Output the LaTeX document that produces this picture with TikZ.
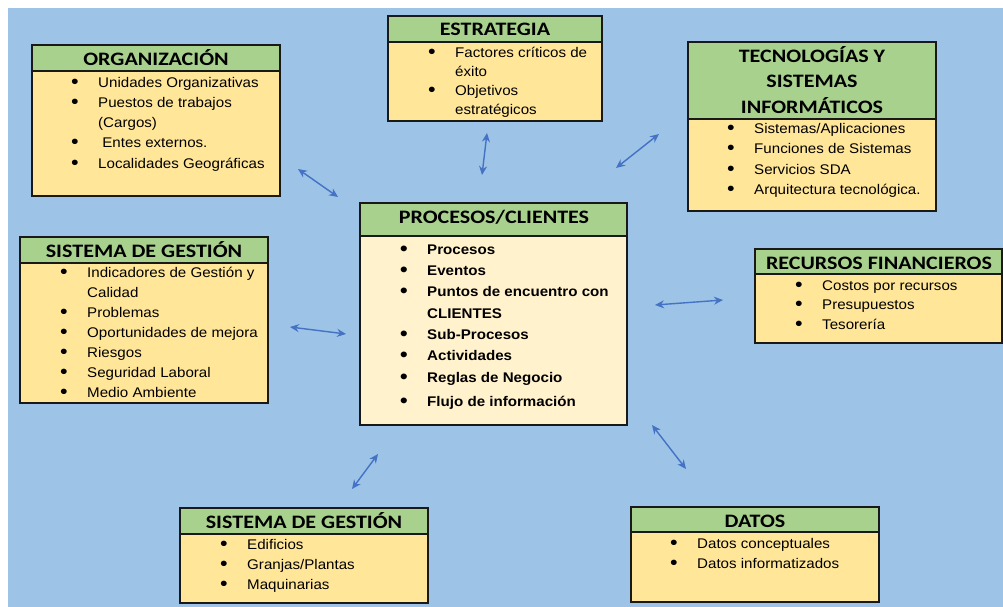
\documentclass[tikz,border=0pt]{standalone}
\usepackage{fontspec}
\setmainfont{Liberation Sans}[FakeStretch=1.08]
\newfontfamily\hdrfont{Carlito}[FakeStretch=1.16]
\usetikzlibrary{arrows.meta}

\definecolor{fondo}{HTML}{9DC3E6}
\definecolor{verde}{HTML}{A9D18E}
\definecolor{crema}{HTML}{FFE699}
\definecolor{cremac}{HTML}{FFF2CC}
\definecolor{flecha}{HTML}{4472C4}

\newcommand{\bul}[1][27pt]{\makebox[#1][l]{\raisebox{-1pt}{\fontsize{20}{20}\selectfont\textbullet}}}
\newcommand{\sig}{\hspace*{27pt}}

\tikzset{
  hdr/.style={draw=black!90, line width=1.2pt, fill=verde},
  cja/.style={draw=black!90, line width=1.2pt, fill=crema},
  tit/.style={anchor=base, inner sep=0, font=\hdrfont\bfseries\fontsize{19}{25.5}\selectfont},
  lst/.style={anchor=north west, inner sep=0, align=left, font=\fontsize{14}{#1}\selectfont},
  lst/.default=20,
  lnk/.style={draw=flecha, line width=1.4pt, {Stealth[length=9pt,width=8pt]}-{Stealth[length=9pt,width=8pt]}}
}

\begin{document}
\begin{tikzpicture}[x=1pt,y=-1pt]
\useasboundingbox (0,0) rectangle (1003,607);
\fill[fondo] (8,8) rectangle (1003,607);

\draw[cja] (32,71) rectangle (280,196);
\draw[hdr] (32,45) rectangle (280,71);
\node[tit] (org) at (156,66) {ORGANIZACIÓN};
\node[lst] (orgl) at (71,73) {\strut\bul Unidades Organizativas\\ \bul Puestos de trabajos\\ \sig(Cargos)\\ \bul\ Entes externos.\\[1pt] \bul Localidades Geográficas};

\draw[cja] (388,42) rectangle (602,121);
\draw[hdr] (388,16) rectangle (602,42);
\node[tit] (est) at (495,36) {ESTRATEGIA};
\node[lst=19] (estl) at (428,43.7) {\strut\bul Factores críticos de\\ \sig éxito\\ \bul Objetivos\\ \sig estratégicos};

\draw[cja] (688,119) rectangle (936,211);
\draw[hdr] (688,42) rectangle (936,119);
\node[tit, anchor=north, align=center] (tec) at (812,44.15) {\strut TECNOLOGÍAS Y\\ SISTEMAS\\ INFORMÁTICOS};
\node[lst=20.5] (tecl) at (727,118.65) {\strut\bul Sistemas/Aplicaciones\\ \bul Funciones de Sistemas\\ \bul Servicios SDA\\ \bul Arquitectura tecnológica.};

\draw[cja] (20,263) rectangle (268,403);
\draw[hdr] (20,237) rectangle (268,263);
\node[tit] (sgl) at (144,257) {SISTEMA DE GESTIÓN};
\node[lst] (sgll) at (60,263) {\strut\bul Indicadores de Gestión y\\ \sig Calidad\\ \bul Problemas\\ \bul Oportunidades de mejora\\ \bul Riesgos\\ \bul Seguridad Laboral\\ \bul Medio Ambiente};

\draw[cja, fill=cremac] (360,236) rectangle (627,425);
\draw[hdr] (360,203) rectangle (627,236);
\node[tit] (proc) at (494,223) {PROCESOS/CLIENTES};
\node[lst, font=\fontsize{14}{21.3}\selectfont\bfseries] (procl) at (400,239.1) {\strut\bul Procesos\\ \bul Eventos\\ \bul Puntos de encuentro con\\ \sig CLIENTES\\ \bul Sub-Procesos\\ \bul Actividades\\ \bul Reglas de Negocio\\[3.5pt] \bul Flujo de información};

\draw[cja] (755,274) rectangle (1002,343);
\draw[hdr] (755,249) rectangle (1002,274);
\node[tit] (rf) at (879,269) {RECURSOS FINANCIEROS};
\node[lst=19.5] (rfl) at (795,276.35) {\strut\bul Costos por recursos\\ \bul Presupuestos\\ \bul Tesorería};

\draw[cja] (180,534) rectangle (428,603);
\draw[hdr] (180,508) rectangle (428,534);
\node[tit] (sgb) at (304,528) {SISTEMA DE GESTIÓN};
\node[lst] (sgbl) at (220,535) {\strut\bul Edificios\\ \bul Granjas/Plantas\\ \bul Maquinarias};

\draw[cja] (631,532) rectangle (879,602);
\draw[hdr] (631,507) rectangle (879,532);
\node[tit] (dat) at (755,527) {DATOS};
\node[lst] (datl) at (670,534) {\strut\bul Datos conceptuales\\ \bul Datos informatizados};

\coordinate (orgA) at (298,169); \coordinate (orgB) at (338,197);
\coordinate (estA) at (487,133); \coordinate (estB) at (482,175);
\coordinate (tecA) at (659,134); \coordinate (tecB) at (616,168);
\coordinate (sglA) at (290,327); \coordinate (sglB) at (346,334);
\coordinate (rfA) at (655,305); \coordinate (rfB) at (723,300);
\coordinate (sgbA) at (378,454); \coordinate (sgbB) at (352,489);
\coordinate (datA) at (652,425); \coordinate (datB) at (686,469);

\draw[lnk] (orgA) -- (orgB);
\draw[lnk] (estA) -- (estB);
\draw[lnk] (tecA) -- (tecB);
\draw[lnk] (sglA) -- (sglB);
\draw[lnk] (rfA) -- (rfB);
\draw[lnk] (sgbA) -- (sgbB);
\draw[lnk] (datA) -- (datB);
\end{tikzpicture}
\end{document}
